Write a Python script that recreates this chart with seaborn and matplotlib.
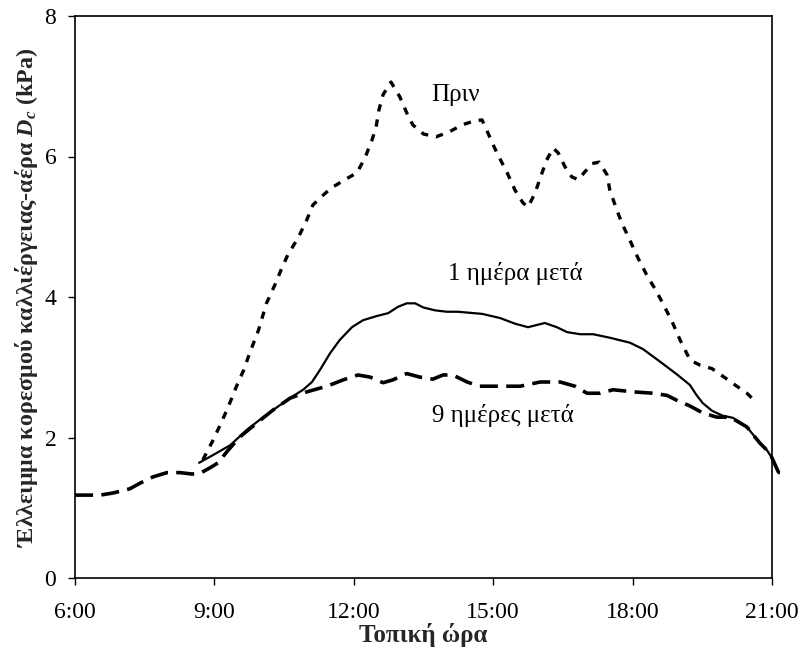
import matplotlib
matplotlib.use("Agg")
import matplotlib.pyplot as plt
from matplotlib.ticker import FixedLocator, FuncFormatter
import seaborn as sns
import pandas as pd

# Local time (decimal hours) and crop-air vapour pressure deficit D_c (kPa)
t_before = [8.75, 8.97, 9.14, 9.30, 9.47, 9.63, 9.77, 9.95, 10.12, 10.30,
            10.45, 10.58, 10.80, 10.99, 11.12, 11.29, 11.51, 11.81, 12.07, 12.24,
            12.39, 12.48, 12.54, 12.63, 12.80, 12.99, 13.14, 13.27, 13.50, 13.77,
            14.05, 14.33, 14.61, 14.76, 14.89, 15.08, 15.30, 15.47, 15.64, 15.75,
            15.90, 16.01, 16.15, 16.29, 16.40, 16.54, 16.69, 16.83, 16.97, 17.13,
            17.28, 17.45, 17.51, 17.66, 17.77, 17.94, 18.12, 18.33, 18.48, 18.65,
            18.85, 19.02, 19.24, 19.45, 19.71, 19.99, 20.20, 20.46, 20.68]
v_before = [1.68, 1.96, 2.20, 2.44, 2.72, 2.96, 3.22, 3.53, 3.91, 4.17,
            4.41, 4.60, 4.84, 5.10, 5.31, 5.42, 5.55, 5.67, 5.77, 5.98,
            6.23, 6.42, 6.66, 6.88, 7.06, 6.85, 6.62, 6.45, 6.32, 6.28,
            6.35, 6.45, 6.51, 6.52, 6.33, 6.05, 5.77, 5.52, 5.34, 5.28,
            5.48, 5.69, 5.95, 6.12, 6.05, 5.86, 5.71, 5.67, 5.78, 5.90,
            5.92, 5.74, 5.52, 5.24, 5.05, 4.81, 4.55, 4.28, 4.12, 3.91,
            3.65, 3.39, 3.10, 3.03, 2.98, 2.85, 2.75, 2.63, 2.49]

t_1day = [8.67, 8.97, 9.34, 9.70, 10.05, 10.41, 10.67, 10.91, 11.10, 11.27,
          11.49, 11.70, 11.96, 12.20, 12.50, 12.74, 12.95, 13.14, 13.32, 13.50,
          13.75, 14.00, 14.24, 14.76, 15.15, 15.47, 15.75, 16.11, 16.37, 16.59,
          16.87, 17.15, 17.51, 17.94, 18.22, 18.59, 18.95, 19.23, 19.38, 19.51,
          19.71, 19.94, 20.16, 20.46, 20.74, 20.89, 21.00, 21.15]
v_1day = [1.64, 1.75, 1.89, 2.11, 2.29, 2.46, 2.58, 2.68, 2.79, 2.96,
          3.20, 3.39, 3.57, 3.67, 3.73, 3.77, 3.86, 3.91, 3.91, 3.85,
          3.81, 3.79, 3.79, 3.76, 3.70, 3.62, 3.57, 3.63, 3.57, 3.50,
          3.47, 3.47, 3.42, 3.35, 3.26, 3.08, 2.90, 2.75, 2.60, 2.49,
          2.38, 2.31, 2.28, 2.15, 1.92, 1.82, 1.71, 1.49]

t_9days = [6.00, 6.54, 6.82, 7.18, 7.40, 7.68, 7.98, 8.26, 8.52, 8.69,
           8.91, 9.08, 9.27, 9.55, 9.92, 10.26, 10.63, 10.99, 11.42, 11.77,
           12.09, 12.35, 12.63, 12.84, 13.14, 13.42, 13.70, 13.92, 14.13, 14.44,
           14.71, 15.15, 15.58, 16.01, 16.44, 16.76, 17.02, 17.30, 17.58, 18.01,
           18.44, 18.74, 18.95, 19.23, 19.51, 19.81, 20.10, 20.46, 20.74, 20.89,
           21.00, 21.15]
v_9days = [1.18, 1.18, 1.21, 1.27, 1.35, 1.44, 1.50, 1.50, 1.48, 1.49,
           1.57, 1.64, 1.80, 2.01, 2.21, 2.39, 2.56, 2.65, 2.73, 2.82,
           2.89, 2.86, 2.78, 2.82, 2.91, 2.86, 2.83, 2.89, 2.89, 2.79,
           2.73, 2.73, 2.73, 2.79, 2.79, 2.73, 2.63, 2.63, 2.68, 2.65,
           2.63, 2.60, 2.53, 2.45, 2.35, 2.29, 2.29, 2.15, 1.92, 1.82,
           1.71, 1.49]

series_labels = ["Πριν", "1 ημέρα μετά", "9 ημέρες μετά"]
label_pos = [(14.18, 6.88), (15.47, 4.34), (15.21, 2.32)]

x_ticks = [6, 9, 12, 15, 18, 21]
y_ticks = [0, 2, 4, 6, 8]

sns.set_theme(style="ticks")
plt.rcParams["font.family"] = ["Liberation Serif", "DejaVu Serif"]
plt.rcParams["mathtext.fontset"] = "custom"
plt.rcParams["mathtext.it"] = "Liberation Serif:italic:bold"
plt.rcParams["mathtext.rm"] = "Liberation Serif:bold"

fig = plt.figure(figsize=(8.04, 6.59), dpi=100)
ax = fig.add_axes([75 / 804, 1 - 578 / 659, (772 - 75) / 804, (578 - 16) / 659])

df_before = pd.DataFrame({"t": t_before, "v": v_before})
df_1day = pd.DataFrame({"t": t_1day, "v": v_1day})
df_9days = pd.DataFrame({"t": t_9days, "v": v_9days})

sns.lineplot(data=df_before, x="t", y="v", ax=ax, color="black", lw=2.4,
             linestyle=(0, (2.2, 2.4)), sort=False, estimator=None, clip_on=False)
sns.lineplot(data=df_1day, x="t", y="v", ax=ax, color="black", lw=1.6,
             sort=False, estimator=None, clip_on=False)
sns.lineplot(data=df_9days, x="t", y="v", ax=ax, color="black", lw=2.6,
             linestyle=(0, (5.0, 2.3)), sort=False, estimator=None, clip_on=False)

for text, (tx, ty) in zip(series_labels, label_pos):
    ax.text(tx, ty, text, ha="center", va="center", fontsize=18, color="black")

ax.set_xlim(6, 21)
ax.set_ylim(0, 8)
ax.xaxis.set_major_locator(FixedLocator(x_ticks))
ax.yaxis.set_major_locator(FixedLocator(y_ticks))
ax.xaxis.set_major_formatter(FuncFormatter(lambda v, p: f"{int(v)}:00"))
ax.tick_params(axis="both", direction="out", length=5, width=1.0,
               labelsize=17, color="black", labelcolor="black")
ax.tick_params(axis="x", pad=12.5)
ax.tick_params(axis="y", pad=8.5)

for side in ["left", "right", "top", "bottom"]:
    ax.spines[side].set_visible(True)
    ax.spines[side].set_color("black")
    ax.spines[side].set_linewidth(1.2)

ax.set_xlabel("Τοπική ώρα", fontsize=18, fontweight="bold", labelpad=0)
ax.set_ylabel("Έλλειμμα κορεσμού καλλιέργειας-αέρα $D_c$ (kPa)",
              fontsize=17.3, fontweight="bold", labelpad=3)

fig.savefig("out.png", dpi=100, facecolor="white")
